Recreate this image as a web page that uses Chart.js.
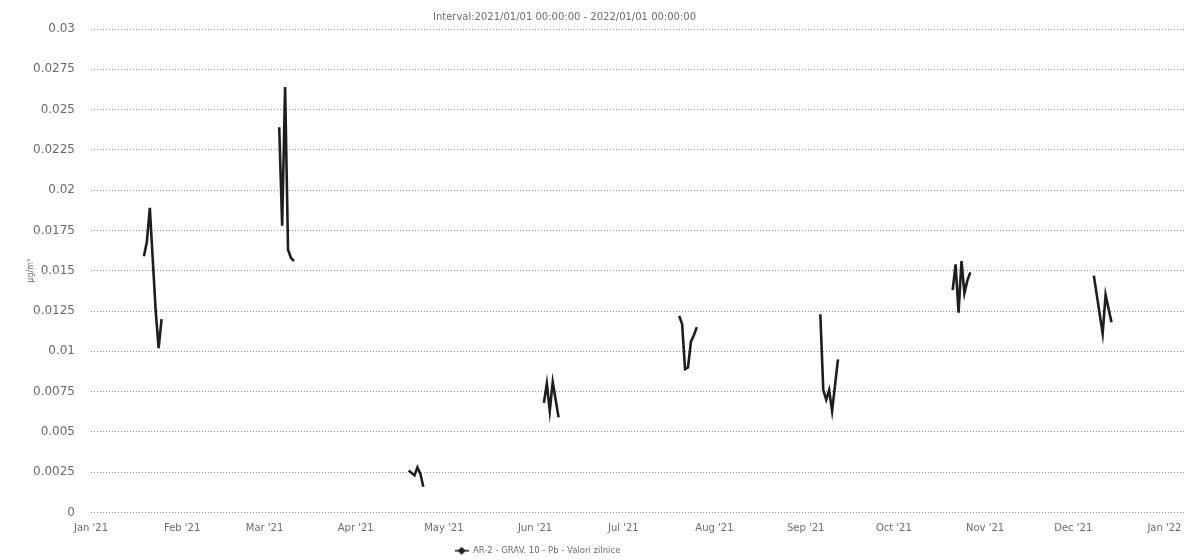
<!DOCTYPE html>
<html>
<head>
<meta charset="utf-8">
<script src="https://cdn.jsdelivr.net/npm/chart.js@4/dist/chart.umd.min.js"></script>
<style>
  html, body { margin: 0; padding: 0; background: #fff; overflow: hidden; }
  #wrap { width: 1193px; height: 560px; }
</style>
</head>
<body>
<div id="wrap"><canvas id="chart"></canvas></div>
<script>
// day of year 2021 (0 = Jan 1) for the month ticks
const monthTicks  = [0, 31, 59, 90, 120, 151, 181, 212, 243, 273, 304, 334, 365];
const monthLabels = ["Jan '21", "Feb '21", "Mar '21", "Apr '21", "May '21", "Jun '21",
                     "Jul '21", "Aug '21", "Sep '21", "Oct '21", "Nov '21", "Dec '21", "Jan '22"];
const yTicks      = [0, 0.0025, 0.005, 0.0075, 0.01, 0.0125, 0.015, 0.0175, 0.02, 0.0225, 0.025, 0.0275, 0.03];
const yTickLabels = ["0", "0.0025", "0.005", "0.0075", "0.01", "0.0125", "0.015", "0.0175", "0.02", "0.0225", "0.025", "0.0275", "0.03"];

// daily values, null = no data (breaks the line)
const days = [18, 19, 20, 21, 22, 23, 24, 25,
              64, 65, 66, 67, 68, 69, 70,
              108, 110, 111, 112, 113, 114,
              154, 155, 156, 157, 159, 160,
              200, 201, 202, 203, 204, 205, 206, 207,
              248, 249, 250, 251, 252, 254, 255,
              293, 294, 295, 296, 297, 298, 299, 300,
              341, 344, 345, 347];
const pb = [0.0159, 0.0168, 0.0189, 0.0157, 0.0125, 0.0102, 0.0120, null,
            0.0239, 0.0178, 0.0264, 0.0163, 0.0158, 0.0156, null,
            0.0026, 0.0023, 0.0028, 0.0024, 0.0016, null,
            0.0068, 0.0080, 0.0063, 0.0081, 0.0059, null,
            0.0122, 0.0117, 0.0089, 0.0090, 0.0106, 0.0110, 0.0115, null,
            0.0123, 0.0076, 0.0070, 0.0076, 0.0063, 0.0095, null,
            0.0138, 0.0154, 0.0124, 0.0156, 0.0136, 0.0144, 0.0149, null,
            0.0147, 0.0111, 0.0135, 0.0118];

const seriesName = "AR-2 - GRAV. 10 - Pb - Valori zilnice";
const titleText  = "Interval:2021/01/01 00:00:00 - 2022/01/01 00:00:00";
const unitLabel  = "µg/m³";

const FONT = "'DejaVu Sans', sans-serif";
const GREY = "#6a6a6a";
const INK  = "#1e1e1e";

// legend symbol: short line with a diamond on it
const legendMark = document.createElement('canvas');
legendMark.width = 14; legendMark.height = 8;
(() => {
  const c = legendMark.getContext('2d');
  c.strokeStyle = INK; c.lineWidth = 1.5;
  c.beginPath(); c.moveTo(0, 4); c.lineTo(14, 4); c.stroke();
  c.fillStyle = INK;
  c.beginPath(); c.moveTo(7, 0); c.lineTo(11, 4); c.lineTo(7, 8); c.lineTo(3, 4); c.closePath(); c.fill();
})();

// title and legend sit a bit left of the middle in the original
const shiftBlocks = {
  id: 'shiftBlocks',
  afterUpdate(chart) {
    chart.legend.left -= 110;
    chart.titleBlock.left -= 56;
  }
};

new Chart(document.getElementById('chart'), {
  type: 'line',
  data: {
    datasets: [{
      label: seriesName,
      data: days.map((d, i) => ({ x: d, y: pb[i] })),
      borderColor: INK,
      backgroundColor: INK,
      borderWidth: 2.6,
      pointRadius: 0,
      pointStyle: legendMark,
      tension: 0,
      spanGaps: false
    }]
  },
  options: {
    responsive: true,
    maintainAspectRatio: false,
    animation: false,
    layout: { padding: { left: 0, right: 8, top: 0, bottom: -5 } },
    plugins: {
      title: {
        display: true,
        text: titleText,
        color: GREY,
        font: { family: FONT, size: 10, weight: 'normal' },
        padding: { top: 11, bottom: 6 }
      },
      legend: {
        position: 'bottom',
        labels: {
          color: GREY,
          font: { family: FONT, size: 8.5 },
          usePointStyle: true,
          pointStyleWidth: 14,
          boxHeight: 7,
          padding: 2
        }
      },
      tooltip: { enabled: false }
    },
    scales: {
      x: {
        type: 'linear',
        min: 0,
        max: 372,
        afterBuildTicks: s => { s.ticks = monthTicks.map(v => ({ value: v })); },
        grid: { display: false, drawTicks: false },
        border: { display: false },
        ticks: {
          color: GREY,
          font: { family: FONT, size: 10 },
          padding: 10,
          maxRotation: 0,
          autoSkip: false,
          callback: (v, i) => monthLabels[i]
        }
      },
      y: {
        min: 0,
        max: 0.03,
        afterBuildTicks: s => { s.ticks = yTicks.map(v => ({ value: v })); },
        afterFit: s => { s.width = 91; },
        grid: { color: '#8c8c8c', lineWidth: 1, drawTicks: false },
        border: { display: false, dash: [1, 2] },
        ticks: {
          color: GREY,
          font: { family: FONT, size: 12 },
          padding: 16,
          callback: (v, i) => yTickLabels[i]
        },
        title: {
          display: true,
          text: unitLabel,
          color: GREY,
          font: { family: FONT, size: 8 },
          padding: { top: 26, bottom: 0 }
        }
      }
    }
  },
  plugins: [shiftBlocks]
});
</script>
</body>
</html>
